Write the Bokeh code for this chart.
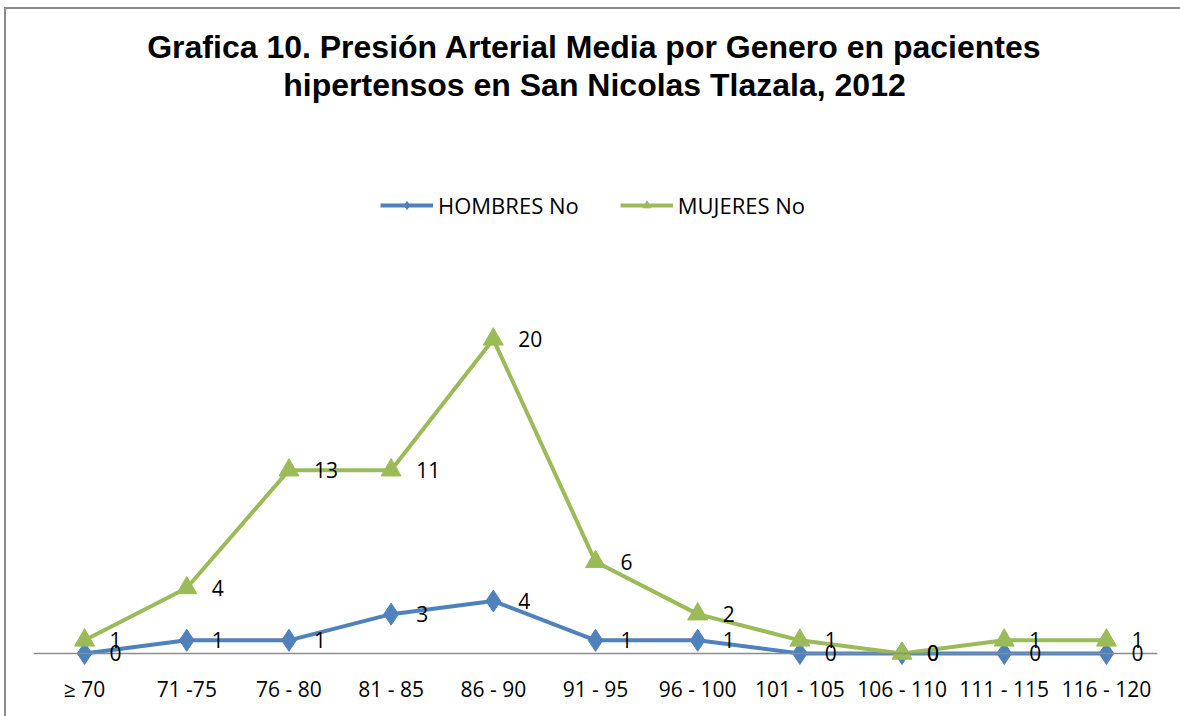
import numpy as np
from bokeh.plotting import figure
from bokeh.models import (ColumnDataSource, FactorRange, Range1d, LabelSet, Label,
                          Legend, LegendItem, Span)
from bokeh.core.properties import value
from bokeh.embed import file_html
from bokeh.resources import INLINE

categories = ["≥ 70", "71 -75", "76 - 80", "81 - 85", "86 - 90", "91 - 95",
              "96 - 100", "101 - 105", "106 - 110", "111 - 115", "116 - 120"]
hombres = [0, 1, 1, 3, 4, 1, 1, 0, 0, 0, 0]
mujeres = [1, 4, 13, 11, 20, 6, 2, 1, 0, 1, 1]

BLUE = "#4F81BD"
GREEN = "#9BBB59"
FONT = "Open Sans"

# stacked line chart: mujeres drawn on top of hombres
h = np.array(hombres, dtype=float)
m_stack = h + np.array(mujeres, dtype=float)

src_h = ColumnDataSource(dict(x=categories, y=h, t=[str(v) for v in hombres]))
src_m = ColumnDataSource(dict(x=categories, y=m_stack, t=[str(v) for v in mujeres]))

W, H = 1176, 709
p = figure(width=W, height=H, output_backend="svg", toolbar_location=None,
           x_range=FactorRange(*categories, range_padding=0),
           y_range=Range1d(-1.0, 49.2),
           min_border_left=27, min_border_right=25, min_border_top=0, min_border_bottom=52)
p.title = None
p.outline_line_color = None
p.background_fill_color = "white"
p.border_fill_color = "white"
p.grid.visible = False
p.yaxis.visible = False

ax = p.xaxis[0]
ax.axis_line_color = None
ax.major_tick_line_color = None
ax.minor_tick_line_color = None
ax.major_label_standoff = 2
ax.major_label_text_font = FONT
ax.major_label_text_font_size = "21px"
ax.major_label_text_color = "#000000"

p.add_layout(Span(location=0, dimension="width", line_color="#8c8c8c", line_width=1.5))

lh = p.line("x", "y", source=src_h, line_color=BLUE, line_width=4)
mh = p.scatter("x", "y", source=src_h, marker="diamond", size=22,
               fill_color=BLUE, line_color=BLUE)
lm = p.line("x", "y", source=src_m, line_color=GREEN, line_width=4)
mm = p.scatter("x", "y", source=src_m, marker="triangle", size=20,
               fill_color=GREEN, line_color=GREEN)

for src in (src_h, src_m):
    p.add_layout(LabelSet(x="x", y="y", text="t", source=src, x_offset=25, y_offset=0,
                          text_baseline="middle", text_font=value(FONT),
                          text_font_size=value("21px"), text_color="#000000"))

legend = Legend(items=[LegendItem(label="HOMBRES No", renderers=[lh, mh]),
                       LegendItem(label="MUJERES No", renderers=[lm, mm])],
                orientation="horizontal", location=(347, 446),
                glyph_width=53, glyph_height=20, label_height=20,
                label_standoff=5, spacing=41, padding=0, margin=0,
                label_text_font=FONT, label_text_font_size="22px",
                label_text_color="#000000",
                border_line_color=None, background_fill_alpha=0)
p.add_layout(legend)

title_lines = ["Grafica 10. Presión Arterial Media por Genero en pacientes",
               "hipertensos en San Nicolas Tlazala, 2012"]
for i, t in enumerate(title_lines):
    p.add_layout(Label(x=561, y=620 - 38 * i, x_units="screen", y_units="screen",
                       text=t, text_align="center", text_baseline="middle",
                       text_font="Liberation Sans", text_font_style="bold",
                       text_font_size="32px", text_color="#000000"))

p.styles = {"border-left": "2px solid #8c8c8c", "border-top": "2px solid #8c8c8c",
            "box-sizing": "border-box", "margin-left": "4px", "margin-top": "7px"}

open("out.html", "w").write(file_html(p, INLINE))
